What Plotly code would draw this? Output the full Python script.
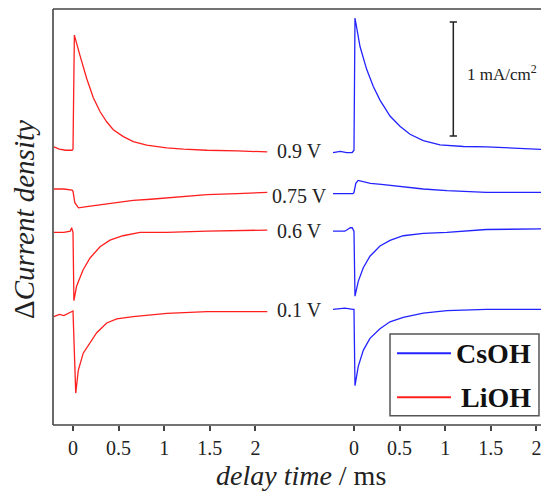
import plotly.graph_objects as go

# ---------------- data ----------------
# delay time in ms, current transient in mA/cm^2 relative to each trace's pre-pulse baseline
POTENTIALS = ["0.9 V", "0.75 V", "0.6 V", "0.1 V"]

LI_T_09 = [-0.21, -0.15, -0.08, -0.01, 0.0, 0.015, 0.077, 0.15, 0.223, 0.296, 0.369, 0.442,
           0.552, 0.661, 0.808, 1.027, 1.21, 1.47, 1.8, 2.13]
LI_J_09 = [0.02, 0.0, -0.01, -0.01, 0.0, 1.00, 0.82, 0.62, 0.45, 0.33, 0.24, 0.17,
           0.11, 0.065, 0.035, 0.011, 0.0, -0.01, -0.015, -0.025]

LI_T_075 = [-0.21, -0.1, -0.01, 0.0, 0.02, 0.06, 0.15, 0.3, 0.5, 0.66, 0.85, 1.03, 1.25, 1.47, 1.8, 2.13]
LI_J_075 = [0.0, 0.0, -0.01, -0.02, -0.12, -0.165, -0.155, -0.14, -0.115, -0.10, -0.09, -0.08,
            -0.065, -0.05, -0.04, -0.03]

LI_T_06 = [-0.21, -0.1, -0.03, -0.015, 0.0, 0.01, 0.04, 0.11, 0.187, 0.296, 0.406, 0.548,
           0.735, 1.03, 1.47, 1.8, 2.13]
LI_J_06 = [0.0, 0.0, 0.01, 0.04, 0.0, -0.60, -0.47, -0.33, -0.225, -0.127, -0.068, -0.03,
           0.0, 0.0, 0.01, 0.015, 0.02]

LI_T_01 = [-0.21, -0.15, -0.1, -0.05, -0.01, 0.0, 0.03, 0.058, 0.112, 0.186, 0.26, 0.37,
           0.48, 0.66, 0.84, 1.03, 1.47, 1.8, 2.13]
LI_J_01 = [-0.05, -0.03, -0.04, -0.02, 0.0, 0.0, -0.72, -0.52, -0.37, -0.28, -0.19, -0.105,
           -0.07, -0.05, -0.035, -0.02, -0.006, -0.005, -0.006]

CS_T_09 = [-0.23, -0.15, -0.08, -0.02, 0.0, 0.011, 0.066, 0.139, 0.212, 0.285, 0.395, 0.504,
           0.614, 0.76, 0.943, 1.2, 1.455, 1.75, 2.1]
CS_J_09 = [0.0, 0.01, 0.0, 0.0, 0.02, 1.18, 0.93, 0.73, 0.58, 0.46, 0.32, 0.23,
           0.16, 0.105, 0.067, 0.053, 0.05, 0.04, 0.025]

CS_T_075 = [-0.23, -0.1, -0.01, 0.0, 0.02, 0.045, 0.1, 0.18, 0.3, 0.47, 0.76, 1.02, 1.45, 1.75, 2.1]
CS_J_075 = [0.0, 0.0, 0.0, 0.01, 0.09, 0.115, 0.105, 0.09, 0.08, 0.064, 0.04, 0.026, 0.011, 0.01, 0.011]

CS_T_06 = [-0.23, -0.1, -0.04, -0.02, 0.0, 0.011, 0.047, 0.102, 0.175, 0.285, 0.395, 0.54,
           0.76, 1.02, 1.45, 1.75, 2.1]
CS_J_06 = [0.0, 0.0, 0.03, 0.03, 0.0, -0.57, -0.44, -0.32, -0.22, -0.13, -0.08, -0.04,
           -0.02, -0.01, 0.015, 0.015, 0.02]

CS_T_01 = [-0.23, -0.1, -0.01, 0.0, 0.011, 0.047, 0.102, 0.175, 0.285, 0.395, 0.54, 0.76,
           1.02, 1.45, 1.75, 2.1]
CS_J_01 = [0.0, 0.01, 0.0, 0.0, -0.67, -0.50, -0.36, -0.255, -0.17, -0.11, -0.07, -0.033,
           -0.012, 0.0, 0.0, 0.0]

# vertical stacking offsets (mA/cm^2) of each trace's baseline
LI_OFFSETS = [2.42, 2.07, 1.69, 1.00]
CS_OFFSETS = [2.39, 2.03, 1.70, 1.015]
LABEL_Y = [2.40, 2.01, 1.70, 1.01]

SCALE_BAR = 1.0  # mA/cm^2
X_TICKS = [0, 0.5, 1, 1.5, 2]
X_TICK_TEXT = ["0", "0.5", "1", "1.5", "2"]

LI_DATA = [(LI_T_09, LI_J_09), (LI_T_075, LI_J_075), (LI_T_06, LI_J_06), (LI_T_01, LI_J_01)]
CS_DATA = [(CS_T_09, CS_J_09), (CS_T_075, CS_J_075), (CS_T_06, CS_J_06), (CS_T_01, CS_J_01)]

RED = "#ff1f1f"
BLUE = "#2323ff"
FRAME = "#444444"
FONT = "Liberation Serif"

fig = go.Figure()
for (t, j), off, name in zip(LI_DATA, LI_OFFSETS, POTENTIALS):
    fig.add_trace(go.Scatter(x=t, y=[off + v for v in j], mode="lines", xaxis="x", yaxis="y",
                             line=dict(color=RED, width=1.3), name="LiOH " + name,
                             showlegend=False))
for (t, j), off, name in zip(CS_DATA, CS_OFFSETS, POTENTIALS):
    fig.add_trace(go.Scatter(x=t, y=[off + v for v in j], mode="lines", xaxis="x2", yaxis="y",
                             line=dict(color=BLUE, width=1.3), name="CsOH " + name,
                             showlegend=False))

split = 0.5061
axis_common = dict(tickvals=X_TICKS, ticktext=X_TICK_TEXT, ticks="outside", ticklen=5,
                   tickwidth=1.5, tickcolor=FRAME, showgrid=False, zeroline=False,
                   showline=False, anchor="y", automargin=False,
                   ticklabeloverflow="allow",
                   tickfont=dict(family=FONT, size=20, color="#222222"))
fig.update_layout(
    width=541, height=493,
    margin=dict(l=53, r=0, t=9, b=68),
    paper_bgcolor="white", plot_bgcolor="white",
    xaxis=dict(domain=[0, split], range=[-0.2193, 2.489], **axis_common),
    xaxis2=dict(domain=[split, 1], range=[-0.5921, 2.0504], **axis_common),
    yaxis=dict(range=[0, 3.649], showticklabels=False, ticks="", showgrid=False,
               zeroline=False, showline=False, automargin=False),
    showlegend=False,
)

shapes = []
# frame (top, left, bottom)
for x0, y0, x1, y1 in [(0, 1, 1, 1), (0, 0, 0, 1), (0, 0, 1, 0)]:
    shapes.append(dict(type="line", xref="paper", yref="paper", x0=x0, y0=y0, x1=x1, y1=y1,
                       line=dict(color=FRAME, width=1.6)))
# scale bar
bx, by0 = 1.089, 2.535
shapes.append(dict(type="line", xref="x2", yref="y", x0=bx, x1=bx, y0=by0, y1=by0 + SCALE_BAR,
                   line=dict(color="#222222", width=1.5)))
for yy in (by0, by0 + SCALE_BAR):
    shapes.append(dict(type="line", xref="x2", yref="y", x0=bx - 0.04, x1=bx + 0.04, y0=yy, y1=yy,
                       line=dict(color="#222222", width=1.5)))
# manual legend
shapes.append(dict(type="rect", xref="paper", yref="paper", x0=0.6906, x1=0.9959, y0=0.0224,
                   y1=0.2188, line=dict(color="#555555", width=1.5), fillcolor="white"))
shapes.append(dict(type="line", xref="paper", yref="paper", x0=0.7049, x1=0.8156, y0=0.1724,
                   y1=0.1724, line=dict(color=BLUE, width=2)))
shapes.append(dict(type="line", xref="paper", yref="paper", x0=0.7049, x1=0.8156, y0=0.0666,
                   y1=0.0666, line=dict(color=RED, width=2)))

annotations = []
for lbl, yy in zip(POTENTIALS, LABEL_Y):
    annotations.append(dict(text=lbl, xref="paper", yref="y", x=0.506, y=yy, xanchor="center",
                            yanchor="middle", showarrow=False,
                            font=dict(family=FONT, size=20, color="#222222")))
annotations.append(dict(text="1 mA/cm<sup>2</sup>", xref="x2", yref="y", x=1.22,
                        y=by0 + SCALE_BAR / 2 + 0.05, xanchor="left", yanchor="middle",
                        showarrow=False, font=dict(family=FONT, size=17, color="#222222")))
annotations.append(dict(text="<b>CsOH</b>", xref="paper", yref="paper", x=0.9836, y=0.1724,
                        xanchor="right", yanchor="middle", showarrow=False,
                        font=dict(family=FONT, size=28, color="#111111")))
annotations.append(dict(text="<b>LiOH</b>", xref="paper", yref="paper", x=0.9836, y=0.0666,
                        xanchor="right", yanchor="middle", showarrow=False,
                        font=dict(family=FONT, size=28, color="#111111")))
annotations.append(dict(text="<i>delay time</i> / ms", xref="paper", yref="paper", x=0.508,
                        y=-0.122, xanchor="center", yanchor="middle", showarrow=False,
                        font=dict(family=FONT, size=28, color="#222222")))
annotations.append(dict(text="Δ<i>Current density</i>", xref="paper", yref="paper", x=-0.0594,
                        y=0.493, xanchor="center", yanchor="middle", textangle=-90,
                        showarrow=False, font=dict(family=FONT, size=29, color="#222222")))

fig.update_layout(shapes=shapes, annotations=annotations)
fig.write_html("out.html")
